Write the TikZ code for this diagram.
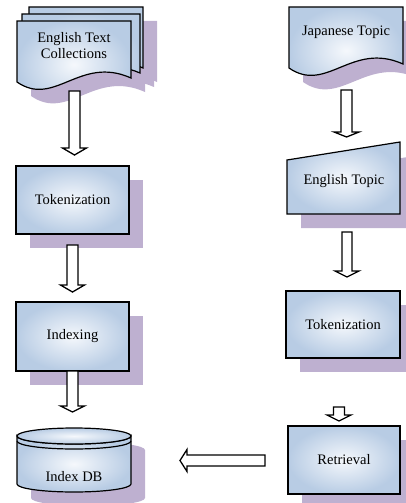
\documentclass[tikz,border=0pt]{standalone}
\usepackage{fontspec}
\setmainfont{Liberation Serif}
\usetikzlibrary{calc,shadows}
\definecolor{boxblue}{RGB}{184,204,228}
\definecolor{boxlight}{RGB}{245,248,252}
\definecolor{shadowc}{RGB}{190,176,208}
\tikzset{
  fillshade/.style={shading=radial, inner color=boxlight, outer color=boxblue},
  edgeline/.style={draw=black, line width=1.2pt, line join=miter},
  shapefill/.style={fillshade, edgeline},
  shadowfill/.style={fill=shadowc, draw=none},
  txt/.style={font=\fontsize{14.5}{16}\selectfont, align=center, inner sep=0pt},
  procbox/.style={rectangle, edgeline, fillshade, font=\fontsize{14.5}{16}\selectfont,
    drop shadow={shadow xshift=14pt, shadow yshift=-14pt, fill=shadowc, opacity=1}},
  blockarrow/.style={draw=black, fill=white, line width=1.3pt, line join=miter},
}
% document shape: #1 left, #2 right, #3 top, #4 bottom-left y, #5 style
\newcommand\docshape[5]{%
  \path[#5] (#1,#3) -- (#2,#3) -- (#2,{#4-4})
    .. controls ({#1+0.55*(#2-#1)},{#4-27}) and ({#1+0.33*(#2-#1)},{#4+26}) .. (#1,#4) -- cycle;}
% downward block arrow: #1 start, #2 tip, #3 half shaft, #4 half head, #5 head length
\newcommand\blkdown[5]{%
  \draw[blockarrow] ($(#1)+(-#3,0)$) -- ($(#1)+(#3,0)$) -- ($(#2)+(#3,-#5)$) -- ($(#2)+(#4,-#5)$)
    -- (#2) -- ($(#2)+(-#4,-#5)$) -- ($(#2)+(-#3,-#5)$) -- cycle;}
% leftward block arrow
\newcommand\blkleft[5]{%
  \draw[blockarrow] ($(#1)+(0,-#3)$) -- ($(#1)+(0,#3)$) -- ($(#2)+(#5,#3)$) -- ($(#2)+(#5,#4)$)
    -- (#2) -- ($(#2)+(#5,-#4)$) -- ($(#2)+(#5,-#3)$) -- cycle;}
\begin{document}
\begin{tikzpicture}[x=1pt,y=-1pt]
\useasboundingbox (0,0) rectangle (406,503);

% ---------- English Text Collections (multi document) ----------
\begin{scope}[shift={(14,14)}]
  \docshape{29}{143}{7}{72}{shadowfill}
  \docshape{22}{140}{14}{77}{shadowfill}
  \docshape{17}{131}{21}{82}{shadowfill}
\end{scope}
\docshape{29}{143}{7}{72}{shapefill}
\docshape{22}{140}{14}{77}{shapefill}
\docshape{17}{131}{21}{82}{shapefill}
\node[txt] (etc) at (74,46) {English Text\\Collections};

% ---------- Japanese Topic (document) ----------
\begin{scope}[shift={(14,14)}]
  \docshape{289}{403}{7}{68}{shadowfill}
\end{scope}
\docshape{289}{403}{7}{68}{shapefill}
\node[txt] (jt) at (346,32) {Japanese Topic};

% ---------- English Topic (manual input) ----------
\path[shadowfill] (301,174) -- (414,156) -- (414,228) -- (301,228) -- cycle;
\path[shapefill] (287,160) -- (400,142) -- (400,214) -- (287,214) -- cycle;
\node[txt] (et) at (344,181) {English Topic};

% ---------- process boxes ----------
\node[procbox, minimum width=113pt, minimum height=68pt] (tok1) at (72.5,200) {Tokenization};
\node[procbox, minimum width=113pt, minimum height=69pt] (idx) at (72.5,336.5) {Indexing};
\node[procbox, minimum width=114pt, minimum height=67pt] (tok2) at (343,324.5) {Tokenization};
\node[procbox, minimum width=112pt, minimum height=68pt] (retr) at (344,460) {Retrieval};

% ---------- Index DB (cylinder) ----------
\begin{scope}[shift={(14,14)}]
  \path[shadowfill] (17,436) -- (17,484) arc[start angle=180, end angle=0, x radius=57, y radius=8]
    -- (131,436) arc[start angle=0, end angle=-180, x radius=57, y radius=8] -- cycle;
\end{scope}
\path[shapefill] (17,436) -- (17,484) arc[start angle=180, end angle=0, x radius=57, y radius=8]
  -- (131,436) arc[start angle=0, end angle=180, x radius=57, y radius=8] -- cycle;
\path[shapefill] (74,436) ellipse[x radius=57, y radius=8];
\draw[line width=1.2pt] (17,441) arc[start angle=180, end angle=0, x radius=57, y radius=8];
\node[txt] (db) at (74,477) {Index DB};

% ---------- block arrows ----------
\coordinate (a1s) at (74.5,91);   \coordinate (a1e) at (74.5,155);
\coordinate (a2s) at (72.5,245);  \coordinate (a2e) at (72.5,292);
\coordinate (a3s) at (72.5,371);  \coordinate (a3e) at (72.5,412);
\coordinate (b1s) at (346.5,90);  \coordinate (b1e) at (346.5,137);
\coordinate (b2s) at (347,232);   \coordinate (b2e) at (347,277);
\coordinate (b3s) at (339,407);   \coordinate (b3e) at (339,421);
\coordinate (ls) at (265,460.5);  \coordinate (le) at (180,460.5);
\blkdown{a1s}{a1e}{5.5}{12}{7}
\blkdown{a2s}{a2e}{5.5}{12}{7}
\blkdown{a3s}{a3e}{5.5}{12}{6}
\blkdown{b1s}{b1e}{5.5}{12.5}{5}
\blkdown{b2s}{b2e}{5}{12}{6}
\blkdown{b3s}{b3e}{5.5}{12}{6}
\blkleft{ls}{le}{5.5}{11}{7}
\end{tikzpicture}
\end{document}
